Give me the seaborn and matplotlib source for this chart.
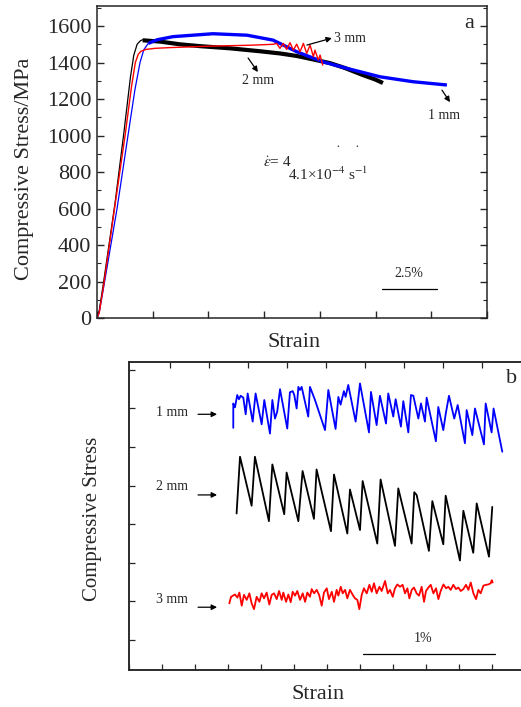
import matplotlib
matplotlib.use("Agg")
import matplotlib.pyplot as plt
from matplotlib.ticker import MultipleLocator, NullFormatter
import numpy as np
import seaborn as sns

# ---------------- Panel a data (strain %, stress MPa) ----------------
black_el_strain = [0, 0.1, 0.3, 0.81, 1.21, 1.5, 1.65, 1.8, 1.95, 2.05]
black_el_stress = [0, 40, 200, 630, 1020, 1320, 1440, 1500, 1520, 1525]
black_band_strain = [2.05, 2.83, 3.72, 4.62, 5.97, 7.31, 8.21, 8.97, 9.78, 10.45, 11.13, 11.94, 12.47, 12.83]
black_band_stress = [1522, 1515, 1500, 1490, 1478, 1462, 1450, 1436, 1415, 1397, 1370, 1331, 1308, 1288]

blue_el_strain = [0, 0.1, 0.3, 0.9, 1.39, 1.7, 1.93, 2.1, 2.3]
blue_el_stress = [0, 30, 170, 600, 1000, 1250, 1400, 1470, 1505]
blue_band_strain = [2.3, 2.7, 3.41, 5.20, 6.73, 7.90, 8.97, 10.14, 11.22, 12.70, 14.18, 15.70]
blue_band_stress = [1505, 1525, 1542, 1558, 1550, 1523, 1459, 1404, 1368, 1322, 1295, 1277]

red_strain = [0, 0.1, 0.3, 0.81, 1.26, 1.55, 1.72, 1.85, 1.97, 2.2, 2.6, 3.28, 5.07, 6.87, 7.9, 8.06,
              8.21, 8.36, 8.51, 8.66, 8.81, 8.96, 9.11, 9.26, 9.41, 9.56, 9.71, 9.78, 9.93, 10.01, 10.13]
red_stress = [0, 30, 180, 620, 1000, 1270, 1400, 1445, 1462, 1472, 1478, 1482, 1490, 1495, 1500, 1505,
              1478, 1505, 1472, 1509, 1468, 1501, 1459, 1505, 1450, 1496, 1432, 1468, 1414, 1441, 1386]

# ---------------- Panel b data (strain %, arbitrary stress) ----------------
b1_strain = [0.790, 0.790, 0.803, 0.820, 0.833, 0.846, 0.866, 0.884, 0.899, 0.937, 0.959, 1.005,
             1.025, 1.068, 1.086, 1.106, 1.123, 1.144, 1.199, 1.219, 1.240, 1.252, 1.270, 1.283,
             1.295, 1.308, 1.358, 1.371, 1.409, 1.485, 1.510, 1.565, 1.586, 1.603, 1.628, 1.641,
             1.661, 1.717, 1.750, 1.818, 1.833, 1.876, 1.901, 1.947, 1.964, 2.002, 2.020, 2.060,
             2.078, 2.116, 2.136, 2.154, 2.192, 2.212, 2.242, 2.255, 2.325, 2.343, 2.381, 2.399,
             2.424, 2.464, 2.490, 2.545, 2.558, 2.601, 2.621, 2.689, 2.702, 2.747, 2.762, 2.828]
b1_stress = [6.50, 7.13, 7.03, 7.35, 7.24, 7.33, 7.28, 6.85, 7.39, 6.66, 7.39, 6.59,
             7.22, 6.35, 7.22, 6.74, 6.92, 7.50, 6.48, 7.42, 7.45, 7.35, 7.00, 7.56,
             7.48, 7.56, 6.79, 7.56, 7.22, 6.44, 7.48, 6.47, 7.30, 7.10, 7.45, 7.30,
             7.61, 6.66, 7.65, 6.38, 7.43, 6.57, 7.33, 6.61, 7.39, 6.79, 7.24, 6.53,
             7.19, 6.38, 7.35, 7.33, 6.74, 7.13, 6.66, 7.28, 6.15, 7.04, 6.44, 6.85,
             7.33, 6.74, 7.09, 6.10, 6.96, 6.31, 7.00, 6.07, 7.13, 6.38, 7.00, 5.88]

b2_strain = [0.815, 0.841, 0.929, 0.954, 1.060, 1.086, 1.176, 1.194, 1.283, 1.315, 1.401, 1.421,
             1.530, 1.553, 1.654, 1.674, 1.750, 1.770, 1.881, 1.906, 2.015, 2.040, 2.141, 2.161,
             2.179, 2.272, 2.298, 2.381, 2.399, 2.507, 2.533, 2.608, 2.634, 2.727, 2.752]
b2_stress = [4.28, 5.75, 4.48, 5.75, 4.08, 5.55, 4.26, 5.34, 4.08, 5.38, 4.14, 5.42,
             3.82, 5.29, 3.76, 4.90, 3.85, 5.12, 3.50, 5.16, 3.44, 4.93, 3.50, 4.83,
             4.76, 3.31, 4.60, 3.48, 4.74, 3.06, 4.35, 3.26, 4.54, 3.16, 4.45]

b3_strain = [0.760, 0.773, 0.803, 0.821, 0.836, 0.854, 0.871, 0.892, 0.912, 0.929, 0.947, 0.967,
             0.988, 1.005, 1.023, 1.043, 1.063, 1.081, 1.099, 1.119, 1.137, 1.157, 1.169, 1.190,
             1.207, 1.225, 1.240, 1.258, 1.275, 1.296, 1.316, 1.334, 1.351, 1.371, 1.384, 1.402,
             1.422, 1.440, 1.460, 1.477, 1.498, 1.515, 1.536, 1.553, 1.573, 1.586, 1.604, 1.619,
             1.637, 1.654, 1.674, 1.695, 1.712, 1.730, 1.745, 1.763, 1.780, 1.801, 1.821, 1.839,
             1.856, 1.876, 1.897, 1.914, 1.940, 1.960, 1.977, 1.998, 2.015, 2.033, 2.053, 2.073,
             2.091, 2.109, 2.124, 2.142, 2.159, 2.179, 2.197, 2.217, 2.235, 2.250, 2.268, 2.286,
             2.306, 2.326, 2.344, 2.361, 2.382, 2.402, 2.419, 2.437, 2.457, 2.477, 2.495, 2.513,
             2.533, 2.553, 2.571, 2.589, 2.609, 2.629, 2.647, 2.664, 2.685, 2.705, 2.722, 2.740,
             2.748, 2.755]
b3_stress = [1.95, 2.12, 2.18, 2.10, 2.23, 1.89, 2.17, 2.04, 2.21, 1.95, 1.80, 2.12,
             1.99, 2.21, 2.08, 2.23, 1.92, 2.17, 2.21, 2.06, 2.27, 2.04, 2.23, 1.99,
             2.18, 1.98, 2.25, 2.15, 2.27, 2.04, 2.21, 1.99, 2.23, 2.12, 2.32, 2.21,
             2.30, 2.17, 1.89, 2.23, 2.34, 2.06, 2.25, 1.99, 2.30, 2.15, 2.38, 2.21,
             2.30, 2.08, 2.30, 2.17, 2.08, 2.04, 1.80, 2.17, 2.34, 2.21, 2.43, 2.25,
             2.47, 2.21, 2.38, 2.27, 2.53, 2.21, 2.30, 2.12, 2.34, 2.44, 2.38, 2.43,
             2.21, 2.34, 2.08, 2.30, 2.36, 2.21, 2.15, 2.38, 1.99, 2.27, 2.36, 2.43,
             2.21, 2.34, 2.06, 2.27, 2.44, 2.34, 2.38, 2.30, 2.43, 2.32, 2.36, 2.27,
             2.32, 2.43, 2.30, 2.49, 2.21, 2.06, 2.30, 2.21, 2.41, 2.43, 2.44, 2.47,
             2.55, 2.49]

# ---------------- Styling ----------------
sns.set_style("ticks")
plt.rcParams['font.family'] = ['Liberation Serif', 'DejaVu Serif']
plt.rcParams['mathtext.fontset'] = 'stix'
plt.rcParams['axes.linewidth'] = 1.1

W, H = 521, 707
fig = plt.figure(figsize=(W / 100, H / 100), dpi=100)

def box(l, t, r, b):
    return [l / W, 1 - b / H, (r - l) / W, (b - t) / H]

# ---------------- Panel a ----------------
ax = fig.add_axes(box(97, 6, 487, 318))
kw = dict(ax=ax, sort=False, estimator=None, legend=False)
sns.lineplot(x=black_el_strain, y=black_el_stress, color='black', linewidth=0.9, **kw)
sns.lineplot(x=black_band_strain, y=black_band_stress, color='black', linewidth=3.0,
             solid_capstyle='butt', **kw)
sns.lineplot(x=blue_el_strain, y=blue_el_stress, color='#0000ff', linewidth=0.9, **kw)
sns.lineplot(x=blue_band_strain, y=blue_band_stress, color='#0000ff', linewidth=2.4,
             solid_capstyle='butt', **kw)
sns.lineplot(x=red_strain, y=red_stress, color='#ff0000', linewidth=1.0, **kw)

ax.set_xlim(0, 17.5)
ax.set_ylim(0, 1710)
ax.xaxis.set_major_locator(MultipleLocator(2.5))
ax.xaxis.set_major_formatter(NullFormatter())
ax.yaxis.set_major_locator(MultipleLocator(200))
ax.yaxis.set_minor_locator(MultipleLocator(100))
ax.tick_params(axis='both', which='major', direction='in', length=5, width=1,
               labelsize=16, right=True, top=False, pad=4)
ax.tick_params(axis='y', which='minor', direction='in', length=3, width=0.8, right=True)
for s in ax.spines.values():
    s.set_visible(True)
ax.set_xlabel("Strain", fontsize=16)
ax.xaxis.set_label_coords(0.505, -0.077)
ax.xaxis.label.set_va('center')
ax.set_ylabel("Compressive Stress/MPa", fontsize=16)
ax.yaxis.set_label_coords(-0.185, 0.478)
ax.yaxis.label.set_va('center')

arr = dict(arrowstyle='-|>', color='black', lw=0.9, mutation_scale=8, shrinkA=0, shrinkB=0)
ax.annotate("", xy=(10.54, 1534), xytext=(9.42, 1496), arrowprops=arr)
ax.text(10.63, 1534, "3 mm", fontsize=10, ha='left', va='center')
ax.annotate("", xy=(7.22, 1348), xytext=(6.78, 1425), arrowprops=arr)
ax.text(7.22, 1300, "2 mm", fontsize=10, ha='center', va='center')
ax.annotate("", xy=(15.84, 1183), xytext=(15.48, 1249), arrowprops=arr)
ax.text(15.55, 1110, "1 mm", fontsize=10, ha='center', va='center')
ax.text(16.69, 1616, "a", fontsize=16, ha='center', va='center')
ax.plot([12.77, 15.27], [159, 159], color='black', lw=0.9)
ax.text(14.0, 245, "2.5%", fontsize=10, ha='center', va='center')
ax.text(7.45, 849, r"$\dot{\varepsilon}$= 4", fontsize=11, ha='left', va='center')
ax.text(8.57, 790, r"4.1×10$^{-4}$ s$^{-1}$", fontsize=11, ha='left', va='center')
ax.text(10.81, 912, "\u02d9", fontsize=10, ha='center', va='center')
ax.text(11.67, 912, "\u02d9", fontsize=10, ha='center', va='center')

# ---------------- Panel b ----------------
bx = fig.add_axes(box(129, 362, 525, 670))
kwb = dict(ax=bx, sort=False, estimator=None, legend=False)
sns.lineplot(x=b1_strain, y=b1_stress, color='#0000ff', linewidth=1.3, **kwb)
sns.lineplot(x=b2_strain, y=b2_stress, color='black', linewidth=1.3, **kwb)
sns.lineplot(x=b3_strain, y=b3_stress, color='#ff0000', linewidth=1.3, **kwb)
bx.set_xlim(0, 3.0)
bx.set_ylim(0.223, 8.205)
bx.xaxis.set_major_locator(MultipleLocator(0.25))
bx.yaxis.set_major_locator(MultipleLocator(1))
bx.xaxis.set_major_formatter(NullFormatter())
bx.yaxis.set_major_formatter(NullFormatter())
bx.tick_params(axis='both', which='major', direction='in', length=4, width=0.9,
               top=False, right=False)
for s in bx.spines.values():
    s.set_visible(True)
tx = bx.twiny()
tx.set_xlim(0, 3.0)
tx.set_xticks(np.arange(0.31, 2.95, 0.2955))
tx.xaxis.set_major_formatter(NullFormatter())
tx.tick_params(axis='x', direction='in', length=4, width=0.9)

bx.set_xlabel("Strain", fontsize=16)
bx.xaxis.set_label_coords(0.477, -0.081)
bx.xaxis.label.set_va('center')
bx.set_ylabel("Compressive Stress", fontsize=15)
bx.yaxis.set_label_coords(-0.093, 0.49)
bx.yaxis.label.set_va('center')

arrb = dict(arrowstyle='-|>', color='black', lw=0.9, mutation_scale=8, shrinkA=0, shrinkB=0)
for ty, ay, lab in [(6.90, 6.85, "1 mm"), (4.99, 4.76, "2 mm"), (2.04, 1.85, "3 mm")]:
    bx.text(0.326, ty, lab, fontsize=10, ha='center', va='center')
    bx.annotate("", xy=(0.667, ay), xytext=(0.523, ay), arrowprops=arrb)
bx.text(2.90, 7.79, "b", fontsize=16, ha='center', va='center')
bx.plot([1.773, 2.773], [0.64, 0.64], color='black', lw=0.9)
bx.text(2.227, 1.03, "1%", fontsize=10, ha='center', va='center')

fig.savefig("out.png", dpi=100)
